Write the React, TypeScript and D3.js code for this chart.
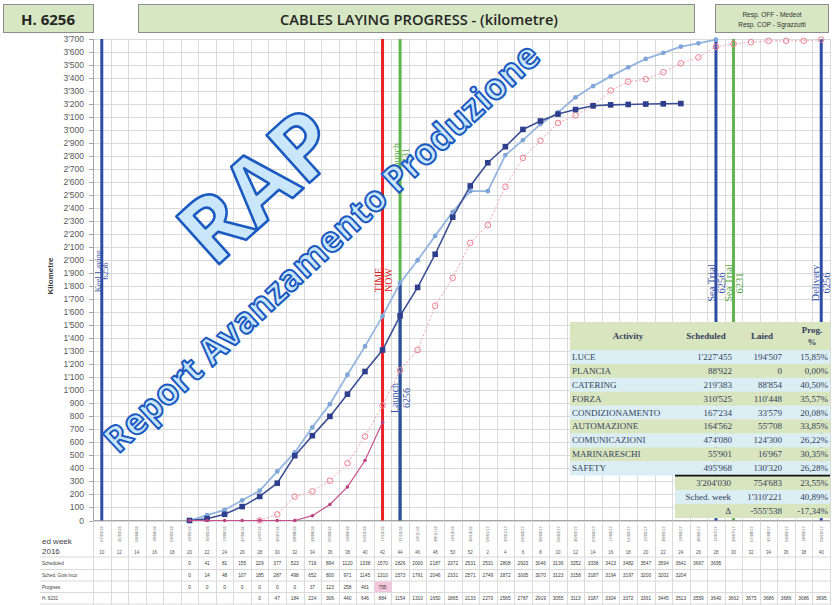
import React from 'react';
import * as d3 from 'd3';

const weekDates = [
  "07/03/16","21/03/16","04/04/16","18/04/16","02/05/16","16/05/16","30/05/16","13/06/16","27/06/16","11/07/16",
  "25/07/16","08/08/16","22/08/16","05/09/16","19/09/16","03/10/16","17/10/16","31/10/16","14/11/16","28/11/16",
  "12/12/16","26/12/16","09/01/17","23/01/17","06/02/17","20/02/17","06/03/17","20/03/17","03/04/17","17/04/17",
  "01/05/17","15/05/17","29/05/17","12/06/17","26/06/17","10/07/17","24/07/17","07/08/17","21/08/17","04/09/17",
  "18/09/17","02/10/17"
];
const weekNums = [10,12,14,16,18,20,22,24,26,28,30,32,34,36,38,40,42,44,46,48,50,52,2,4,6,8,10,12,14,16,18,20,22,24,26,28,30,32,34,36,38,40];

const scheduledStart = 5;
const scheduled = [0,41,81,155,229,377,523,716,894,1120,1338,1570,1826,2000,2187,2372,2531,2531,2808,2923,3046,3136,3252,3338,3413,3482,3547,3594,3641,3667,3695];
const schedIncStart = 5;
const schedInc = [0,14,48,107,185,287,498,652,800,971,1145,1310,1573,1791,2046,2331,2571,2749,2872,3005,3070,3123,3158,3187,3194,3197,3200,3202,3204];
const progressStart = 5;
const progress = [0,0,0,0,0,0,0,37,123,258,461,755];
const h6231Start = 9;
const h6231 = [0,47,184,224,306,440,646,884,1154,1310,1650,1865,2133,2270,2565,2787,2919,3055,3113,3187,3304,3372,3391,3445,3513,3559,3640,3662,3675,3686,3686,3686,3695];

const rowLabels = ["Scheduled","Sched. Gois Inco","Progress","H. 6231"];

const events = [
  { l1: "Keel Laying", l2: "6256", col: 0, top: 3700, color: "#2e4ca3", tcolor: "#3550a8", o1: -4, o2: 3.5, cy: 271, fs: 8.5 },
  { l1: "TIME", l2: "NOW", col: 16, top: 3700, color: "#ea2228", tcolor: "#d8262c", o1: -4.5, o2: 5.5, cy: 280, fs: 10 },
  { l1: "Launch", l2: "6231", col: 17, top: 3700, color: "#62b450", tcolor: "#5aab48", o1: -4, o2: 5, cy: 158, fs: 10 },
  { l1: "Launch", l2: "6256", col: 17, top: 1840, color: "#2e4ca3", tcolor: "#3550a8", o1: -6, o2: 6.5, cy: 398, fs: 10 },
  { l1: "Sea Trial", l2: "6256", col: 35, top: 3700, color: "#2e4ca3", tcolor: "#3550a8", o1: -4.5, o2: 5.5, cy: 283, fs: 10.5 },
  { l1: "Sea Trial", l2: "6231", col: 36, top: 3700, color: "#62b450", tcolor: "#5aab48", o1: -4.5, o2: 6, cy: 283, fs: 10.5 },
  { l1: "Delivery", l2: "6256", col: 41, top: 3700, color: "#2e4ca3", tcolor: "#3550a8", o1: -6, o2: 5.5, cy: 283, fs: 10.5 },
];

const actNames = ["LUCE","PLANCIA","CATERING","FORZA","CONDIZIONAMENTO","AUTOMAZIONE","COMUNICAZIONI","MARINARESCHI","SAFETY"];
const actSched = ["1'227'455","88'922","219'383","310'525","167'234","164'562","474'080","55'901","495'968"];
const actLaied = ["194'507","0","88'854","110'448","33'579","55'708","124'300","16'967","130'320"];
const actProg = ["15,85%","0,00%","40,50%","35,57%","20,08%","33,85%","26,22%","30,35%","26,28%"];
const summary = [
  ["3'204'030","754'683","23,55%"],
  ["Sched. week","1'310'221","40,89%"],
  ["Δ","-555'538","-17,34%"],
];

const fmt = (v: number) => d3.format(",")(v).replace(/,/g, "'");

export default function App() {
  const W = 836, H = 605;
  const x = d3.scaleBand<string>().domain(weekDates).range([93, 830]).padding(0);
  const bw = x.bandwidth();
  const cx = (i: number) => (x(weekDates[i]) as number) + bw / 2;
  const y = d3.scaleLinear().domain([0, 3700]).range([520.5, 39]);
  const yTicks = d3.range(0, 3701, 100);

  const mkLine = (start: number) =>
    d3.line<number>().x((_, k) => cx(start + k)).y(d => y(d));

  const green = "#d7e6c3";
  const blueRow = "#daeef4";
  const greenRow = "#d8e5be";
  const tFont = "'Liberation Serif', 'DejaVu Serif', serif";
  const sFont = "'Liberation Sans', Arial, sans-serif";
  const tColor = "#35405c";

  const tableX0 = 570, tableX1 = 830;
  const headY0 = 322, headY1 = 350, rowH = 13.9;
  const sumX0 = 675;

  const bottomRows = [
    { start: scheduledStart, vals: scheduled },
    { start: schedIncStart, vals: schedInc },
    { start: progressStart, vals: progress },
    { start: h6231Start, vals: h6231 },
  ];
  const rowLines = [557, 569.5, 581, 592.5, 604];
  const rowCenters = [563.5, 575, 587, 598.5];

  return (
    <svg width={W} height={H} style={{ position: 'absolute', left: 0, top: 0, background: '#fff' }}
      xmlns="http://www.w3.org/2000/svg">
      <rect x={0} y={0} width={W} height={H} fill="#fff" />
      {/* header boxes */}
      <rect x={3.5} y={4.5} width={90} height={28} fill={green} stroke="#8c8c8c" strokeWidth={1} />
      <text x={48} y={19} textAnchor="middle" dominantBaseline="central" fontFamily="'Open Sans', sans-serif"
        fontWeight={700} fontSize={15} fill="#262626">H. 6256</text>
      <rect x={138.5} y={4.5} width={556} height={28} fill={green} stroke="#8c8c8c" strokeWidth={1} />
      <text x={419} y={19} textAnchor="middle" dominantBaseline="central" fontFamily="'Open Sans', sans-serif"
        fontWeight={600} fontSize={14} fill="#262626" textLength={278} lengthAdjust="spacingAndGlyphs">CABLES LAYING PROGRESS - (kilometre)</text>
      <rect x={715.5} y={4.5} width={113} height={28} fill={green} stroke="#8c8c8c" strokeWidth={1} />
      <text x={772} y={14.5} textAnchor="middle" dominantBaseline="central" fontFamily={sFont} fontSize={6.5} fill="#333">Resp. OFF - Medeot</text>
      <text x={772} y={24.5} textAnchor="middle" dominantBaseline="central" fontFamily={sFont} fontSize={6.5} fill="#333">Resp. COP - Sgrazzutti</text>

      {/* grid */}
      <g stroke="#dadada" strokeWidth={1}>
        {yTicks.map(t => (
          <line key={'h' + t} x1={93} x2={830} y1={Math.round(y(t)) + 0.5} y2={Math.round(y(t)) + 0.5} />
        ))}
        {weekDates.map(d => (
          <line key={'v' + d} x1={Math.round(x(d) as number) + 0.5} x2={Math.round(x(d) as number) + 0.5} y1={39} y2={605} />
        ))}
        <line x1={830.5} x2={830.5} y1={39} y2={605} />
        {rowLines.map(ly => (
          <line key={'r' + ly} x1={40} x2={830} y1={ly} y2={ly} />
        ))}
      </g>
      {/* axes */}
      <line x1={93.5} x2={93.5} y1={39} y2={521} stroke="#a6a6a6" />
      <line x1={93} x2={830} y1={520.5} y2={520.5} stroke="#a6a6a6" />
      {yTicks.map(t => (
        <g key={'t' + t}>
          <line x1={89} x2={93} y1={Math.round(y(t)) + 0.5} y2={Math.round(y(t)) + 0.5} stroke="#a6a6a6" />
          <text x={84} y={y(t)} textAnchor="end" dominantBaseline="central" fontFamily={sFont} fontSize={8.5} fill="#595959">{fmt(t)}</text>
        </g>
      ))}
      <text transform="translate(50,276) rotate(-90)" textAnchor="middle" dominantBaseline="central"
        fontFamily={sFont} fontWeight={700} fontSize={8} fill="#404040">Kilometre</text>

      {/* event lines */}
      {events.map((e, k) => (
        <line key={'e' + k} x1={cx(e.col)} x2={cx(e.col)} y1={y(e.top)} y2={y(0)} stroke={e.color} strokeWidth={3} />
      ))}
      {events.map((e, k) => (
        <g key={'el' + k} fill={e.tcolor} fontFamily={tFont} fontSize={e.fs}>
          <text transform={`translate(${cx(e.col) + e.o1},${e.cy}) rotate(-90)`} textAnchor="middle" dominantBaseline="central">{e.l1}</text>
          <text transform={`translate(${cx(e.col) + e.o2},${e.cy}) rotate(-90)`} textAnchor="middle" dominantBaseline="central">{e.l2}</text>
        </g>
      ))}

      {/* series */}
      <path d={mkLine(h6231Start)(h6231) || ''} fill="none" stroke="#f3a3b3" strokeWidth={1} strokeDasharray="2,2" />
      {h6231.map((v, k) => (
        <circle key={'p' + k} cx={cx(h6231Start + k)} cy={y(v)} r={2.8} fill="none" stroke="#ee7f90" strokeWidth={1} />
      ))}
      <path d={mkLine(scheduledStart)(scheduled) || ''} fill="none" stroke="#93b5e0" strokeWidth={1.8} />
      {scheduled.map((v, k) => (
        <circle key={'s' + k} cx={cx(scheduledStart + k)} cy={y(v)} r={2.4} fill="#7fa6d9" />
      ))}
      <path d={mkLine(schedIncStart)(schedInc) || ''} fill="none" stroke="#3d4f94" strokeWidth={1.6} />
      {schedInc.map((v, k) => (
        <rect key={'q' + k} x={cx(schedIncStart + k) - 2.8} y={y(v) - 2.8} width={5.6} height={5.6} fill="#2d3e8c" />
      ))}
      <path d={mkLine(progressStart)(progress) || ''} fill="none" stroke="#c9508d" strokeWidth={1.2} />
      {progress.map((v, k) => (
        <circle key={'g' + k} cx={cx(progressStart + k)} cy={y(v)} r={1.8} fill="#b9417f" />
      ))}

      {/* bottom table */}
      {weekDates.map((d, i) => (
        <g key={'d' + d}>
          <text transform={`translate(${cx(i)},534) rotate(-90)`} textAnchor="middle" dominantBaseline="central"
            fontFamily={sFont} fontSize={4} fill="#555">{d}</text>
          <text x={cx(i)} y={552.5} textAnchor="middle" dominantBaseline="central" fontFamily={sFont} fontSize={4.5} fill="#555">{weekNums[i]}</text>
        </g>
      ))}
      <rect x={cx(16) - bw / 2 + 1} y={581.5} width={bw - 1} height={10.5} fill="#f4c6dc" />
      {bottomRows.map((r, ri) => (
        <g key={'br' + ri}>
          {r.vals.map((v, k) => (
            <text key={k} x={cx(r.start + k)} y={rowCenters[ri]} textAnchor="middle" dominantBaseline="central"
              fontFamily={sFont} fontSize={4.8} fill="#3a3a3a">{v}</text>
          ))}
        </g>
      ))}
      <text x={42} y={541} fontFamily={sFont} fontSize={8} fill="#404040" dominantBaseline="central">ed week</text>
      <text x={42} y={551.5} fontFamily={sFont} fontSize={8} fill="#404040" dominantBaseline="central">2016</text>
      {rowLabels.map((l, i) => (
        <text key={l} x={42} y={rowCenters[i]} fontFamily={sFont} fontSize={4.6} fill="#404040" dominantBaseline="central">{l}</text>
      ))}

      {/* activity table */}
      <rect x={tableX0} y={headY0} width={tableX1 - tableX0} height={headY1 - headY0} fill={greenRow} />
      {actNames.map((n, i) => (
        <rect key={'rb' + n} x={tableX0} y={headY1 + i * rowH} width={tableX1 - tableX0} height={rowH + 0.3}
          fill={i % 2 === 0 ? blueRow : greenRow} />
      ))}
      {summary.map((s, i) => (
        <rect key={'sb' + i} x={sumX0} y={headY1 + 9 * rowH + 1 + i * rowH} width={tableX1 - sumX0} height={rowH + 0.3}
          fill={i % 2 === 0 ? greenRow : blueRow} />
      ))}
      <line x1={sumX0} x2={tableX1} y1={headY1 + 9 * rowH + 0.5} y2={headY1 + 9 * rowH + 0.5} stroke="#111" strokeWidth={1.6} />
      <g fontFamily={tFont} fontSize={9} fill={tColor}>
        <text x={628} y={336} textAnchor="middle" dominantBaseline="central" fontWeight={700}>Activity</text>
        <text x={706} y={336} textAnchor="middle" dominantBaseline="central" fontWeight={700}>Scheduled</text>
        <text x={762} y={336} textAnchor="middle" dominantBaseline="central" fontWeight={700}>Laied</text>
        <text x={812} y={330} textAnchor="middle" dominantBaseline="central" fontWeight={700}>Prog.</text>
        <text x={812} y={341.5} textAnchor="middle" dominantBaseline="central" fontWeight={700}>%</text>
        {actNames.map((n, i) => {
          const cy = headY1 + i * rowH + rowH / 2;
          return (
            <g key={'tx' + n}>
              <text x={572} y={cy} dominantBaseline="central">{n}</text>
              <text x={732} y={cy} textAnchor="end" dominantBaseline="central">{actSched[i]}</text>
              <text x={782} y={cy} textAnchor="end" dominantBaseline="central">{actLaied[i]}</text>
              <text x={828} y={cy} textAnchor="end" dominantBaseline="central">{actProg[i]}</text>
            </g>
          );
        })}
        {summary.map((s, i) => {
          const cy = headY1 + 9 * rowH + 1 + i * rowH + rowH / 2;
          return (
            <g key={'sx' + i}>
              <text x={731} y={cy} textAnchor="end" dominantBaseline="central">{s[0]}</text>
              <text x={782} y={cy} textAnchor="end" dominantBaseline="central">{s[1]}</text>
              <text x={828} y={cy} textAnchor="end" dominantBaseline="central">{s[2]}</text>
            </g>
          );
        })}
      </g>

      {/* watermark */}
      <g fontFamily="'Open Sans', sans-serif" fill="#c9e6fb" stroke="#1b5bc1" strokeLinejoin="round">
        <text transform="translate(256,184) rotate(-42)" textAnchor="middle" dominantBaseline="central"
          fontSize={90} fontWeight={700} strokeWidth={2.6}>RAP</text>
        <text transform="translate(321,247) rotate(-43)" textAnchor="middle" dominantBaseline="central"
          fontSize={36} fontWeight={700} strokeWidth={2} textLength={580} lengthAdjust="spacingAndGlyphs">Report Avanzamento Produzione</text>
      </g>
    </svg>
  );
}
